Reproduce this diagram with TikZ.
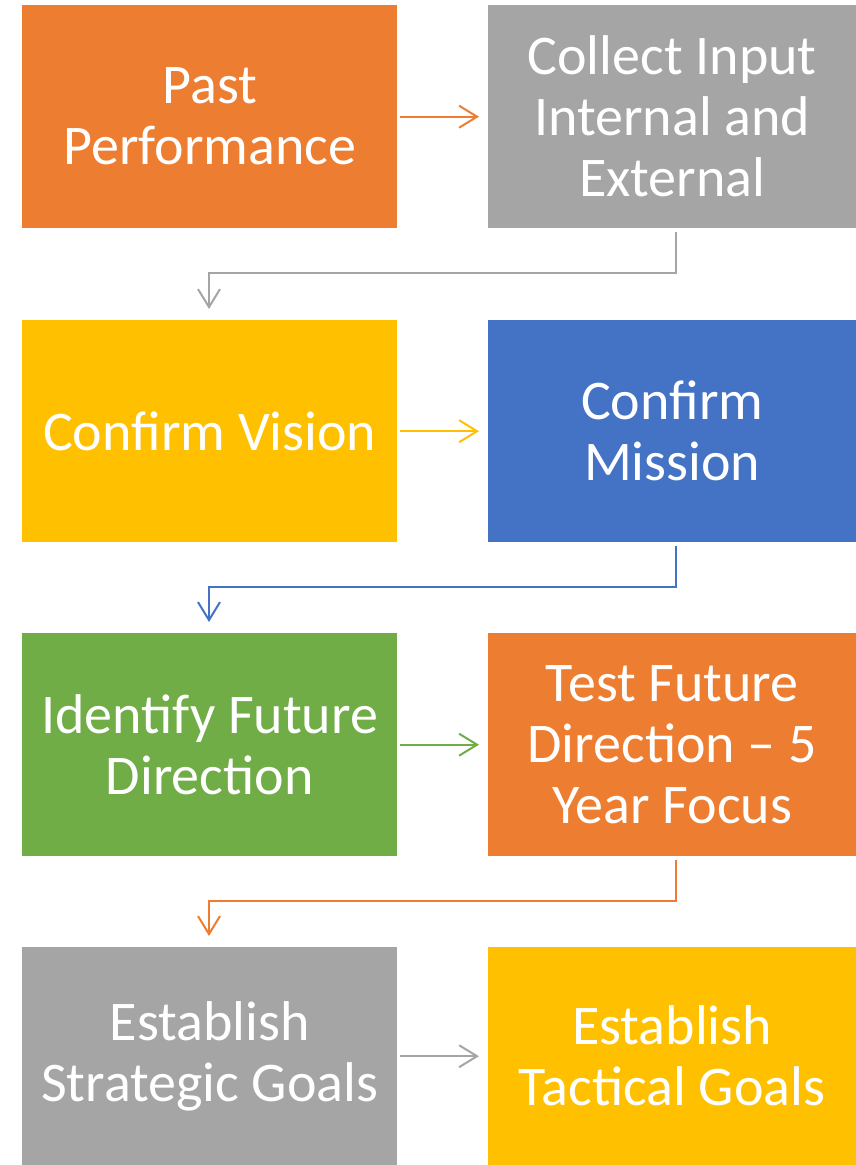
\documentclass[tikz,border=0pt]{standalone}
\usepackage{fontspec}
\setmainfont{Carlito}
\usetikzlibrary{arrows.meta}
\definecolor{cOrange}{HTML}{ED7D31}
\definecolor{cGray}{HTML}{A5A5A5}
\definecolor{cYellow}{HTML}{FFC000}
\definecolor{cBlue}{HTML}{4472C4}
\definecolor{cGreen}{HTML}{70AD47}
\begin{document}
\begin{tikzpicture}[x=1pt,y=-1pt,
  box/.style={minimum width=375pt,minimum height=223pt,inner sep=0pt,anchor=north west,
    text=white,align=center,font=\fontsize{56}{61}\selectfont},
  conn/.style={line width=2pt,-{Straight Barb[length=18pt,width=22pt,line width=2pt]}}]
\useasboundingbox (0,0) rectangle (856,1165);
\node[box,fill=cOrange] (a) at (22,5) {Past\\Performance};
\node[box,fill=cGray,minimum width=368pt] (b) at (488,5) {Collect Input\\Internal and\\External};
\node[box,fill=cYellow,minimum height=222pt] (c) at (22,320) {Confirm Vision};
\node[box,fill=cBlue,minimum width=368pt,minimum height=222pt] (d) at (488,320) {Confirm\\Mission};
\node[box,fill=cGreen] (e) at (22,633) {Identify Future\\Direction};
\node[box,fill=cOrange,minimum width=368pt] (f) at (488,633) {Test Future\\Direction -- 5\\Year Focus};
\node[box,fill=cGray,minimum height=218pt] (g) at (22,947) {Establish\\Strategic Goals};
\node[box,fill=cYellow,minimum width=368pt,minimum height=218pt] (h) at (488,947) {Establish\\Tactical Goals};
\draw[conn,cOrange] ([xshift=3pt]a.east) -- ([xshift=-9pt]b.west);
\draw[conn,cYellow] ([xshift=3pt]c.east) -- ([xshift=-9pt]d.west);
\draw[conn,cGreen] ([xshift=3pt]e.east) -- ([xshift=-9pt]f.west);
\draw[conn,cGray] ([xshift=3pt]g.east) -- ([xshift=-9pt]h.west);
\coordinate (b1) at (676,273);
\coordinate (b2) at (209,273);
\draw[conn,cGray] ([yshift=-4pt]b.south -| b1) -- (b1) -- (b2) -- ([yshift=11pt]c.north -| b2);
\coordinate (d1) at (676,587);
\coordinate (d2) at (209,587);
\draw[conn,cBlue] ([yshift=-4pt]d.south -| d1) -- (d1) -- (d2) -- ([yshift=11pt]e.north -| d2);
\coordinate (f1) at (676,901);
\coordinate (f2) at (209,901);
\draw[conn,cOrange] ([yshift=-4pt]f.south -| f1) -- (f1) -- (f2) -- ([yshift=11pt]g.north -| f2);
\end{tikzpicture}
\end{document}
